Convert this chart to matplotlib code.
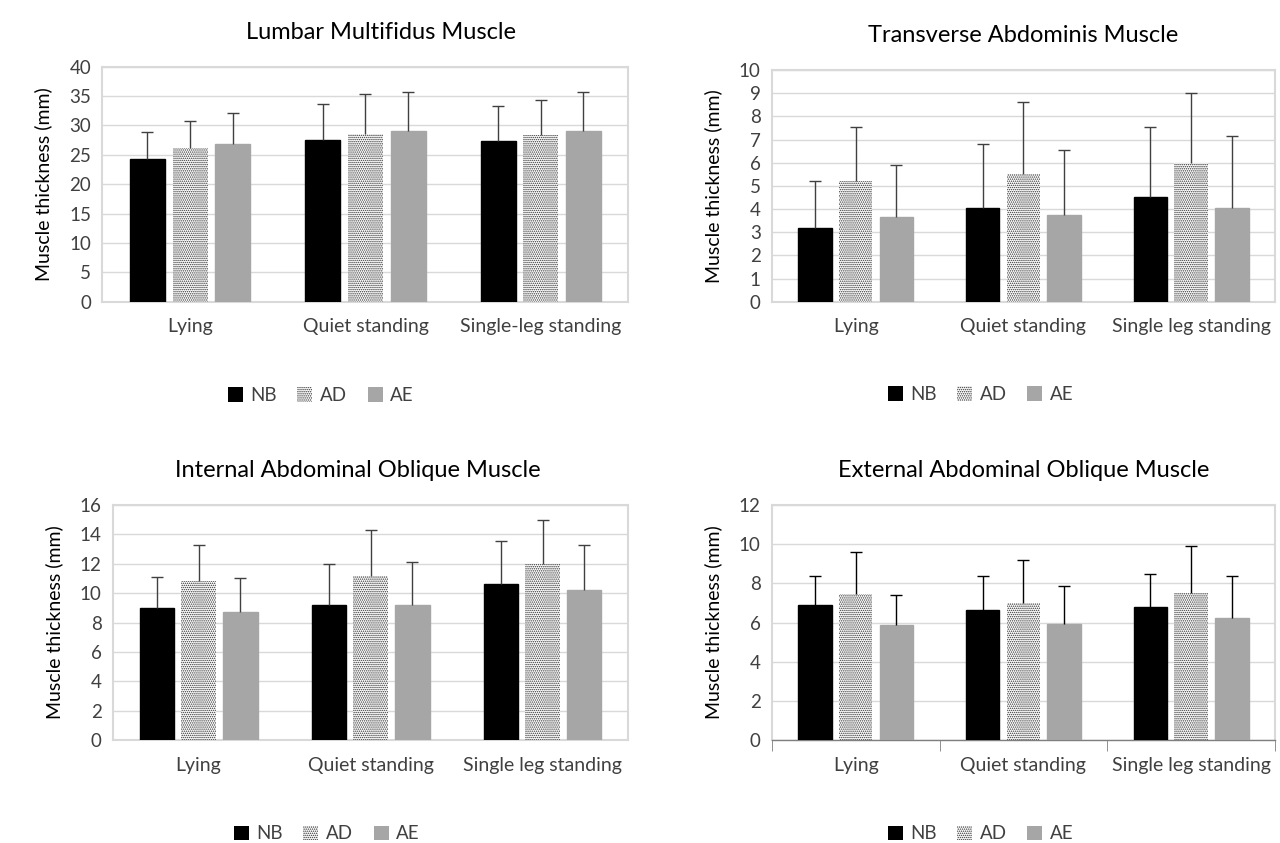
import matplotlib
matplotlib.use("Agg")
import matplotlib.pyplot as plt
import numpy as np
from matplotlib.patches import Patch

plt.rcParams['font.family'] = ['Lato', 'DejaVu Sans']
plt.rcParams['hatch.linewidth'] = 0.7

categories_a = ["Lying", "Quiet standing", "Single-leg standing"]
categories_b = ["Lying", "Quiet standing", "Single leg standing"]
groups = ["NB", "AD", "AE"]

# Lumbar Multifidus
lm_mean = {"NB": [24.3, 27.5, 27.4], "AD": [26.1, 28.6, 28.4], "AE": [26.8, 29.1, 29.1]}
lm_top = {"NB": [28.8, 33.6, 33.3], "AD": [30.8, 35.4, 34.4], "AE": [32.1, 35.7, 35.6]}
# Transverse Abdominis
ta_mean = {"NB": [3.2, 4.05, 4.5], "AD": [5.2, 5.5, 6.0], "AE": [3.65, 3.75, 4.05]}
ta_top = {"NB": [5.2, 6.8, 7.55], "AD": [7.55, 8.6, 9.0], "AE": [5.9, 6.55, 7.15]}
# Internal Oblique
io_mean = {"NB": [9.0, 9.2, 10.6], "AD": [10.8, 11.2, 12.0], "AE": [8.7, 9.2, 10.2]}
io_top = {"NB": [11.1, 11.95, 13.55], "AD": [13.3, 14.3, 15.0], "AE": [11.0, 12.1, 13.25]}
# External Oblique
eo_mean = {"NB": [6.9, 6.65, 6.8], "AD": [7.45, 7.0, 7.5], "AE": [5.9, 5.95, 6.25]}
eo_top = {"NB": [8.4, 8.4, 8.5], "AD": [9.6, 9.2, 9.9], "AE": [7.4, 7.85, 8.4]}

panels = [
    ("Lumbar Multifidus Muscle", categories_a, lm_mean, lm_top, 40, 5, [0.080, 0.642, 0.411, 0.279], 0.53),
    ("Transverse Abdominis Muscle", categories_b, ta_mean, ta_top, 10, 1, [0.603, 0.642, 0.393, 0.275], 0.5),
    ("Internal Abdominal Oblique Muscle", categories_b, io_mean, io_top, 16, 2, [0.088, 0.122, 0.403, 0.279], 0.475),
    ("External Abdominal Oblique Muscle", categories_b, eo_mean, eo_top, 12, 2, [0.603, 0.122, 0.393, 0.279], 0.5),
]

fig = plt.figure(figsize=(12.8, 8.43), dpi=100)
grid_c = "#d9d9d9"
text_c = "#404040"
styles = {
    "NB": dict(facecolor="black", edgecolor="black"),
    "AD": dict(facecolor="white", edgecolor="#333333", hatch="........", linewidth=0),
    "AE": dict(facecolor="#a6a6a6", edgecolor="#a6a6a6"),
}

for idx, (title, cats, means, tops, ymax, step, rect, tx) in enumerate(panels):
    ax = fig.add_axes(rect)
    x = np.arange(len(cats))
    w = 0.2
    offs = [-0.243, 0.0, 0.243]
    ec = "#404040" if idx < 3 else "black"
    for g, o in zip(groups, offs):
        m = np.array(means[g]); t = np.array(tops[g])
        ax.bar(x + o, m, width=w, zorder=3, **styles[g])
        ax.errorbar(x + o, m, yerr=[np.zeros_like(m), t - m], fmt="none",
                    ecolor=ec, elinewidth=1.0, capsize=0, zorder=4)
        ax.plot(x + o, t, linestyle="none", marker="_", markersize=9,
                markeredgewidth=1.0, color=ec, zorder=4)
    ax.set_xlim(-0.5, 2.5)
    ax.set_ylim(0, ymax)
    ax.set_yticks(np.arange(0, ymax + step / 2, step))
    ax.yaxis.grid(True, color=grid_c, linewidth=1.0, zorder=0)
    ax.set_axisbelow(True)
    ax.set_xticks(x)
    ax.set_xticklabels(cats)
    for s in ax.spines.values():
        s.set_color(grid_c)
        s.set_linewidth(1.5)
    ax.tick_params(axis="y", length=0, labelsize=13.5, labelcolor=text_c, pad=8)
    ax.tick_params(axis="x", length=0, labelsize=14, labelcolor=text_c, pad=12)
    if idx == 3:
        ax.spines["bottom"].set_color("#7f7f7f")
        ax.spines["bottom"].set_linewidth(1.0)
        ax.set_xticks([-0.5, 0.5, 1.5, 2.5], minor=True)
        ax.tick_params(axis="x", which="minor", length=8, color="#7f7f7f", direction="out")
    ax.set_ylabel("Muscle thickness (mm)", fontsize=14, color="black", labelpad=12)
    ax.set_title(title, fontsize=17, color="black", pad=20, x=tx)
    handles = [Patch(facecolor=styles[g]["facecolor"],
                     edgecolor=styles[g]["edgecolor"] if g != "AD" else "#333333",
                     hatch=styles[g].get("hatch"), linewidth=0, label=g) for g in groups]
    ax.legend(handles=handles, loc="upper center", bbox_to_anchor=(0.415, -0.29), ncol=3,
              frameon=False, fontsize=13.5, handlelength=0.8, handleheight=0.8,
              handletextpad=0.4, columnspacing=1.1, labelcolor=text_c)

fig.savefig("out.png", dpi=100, facecolor="white")
